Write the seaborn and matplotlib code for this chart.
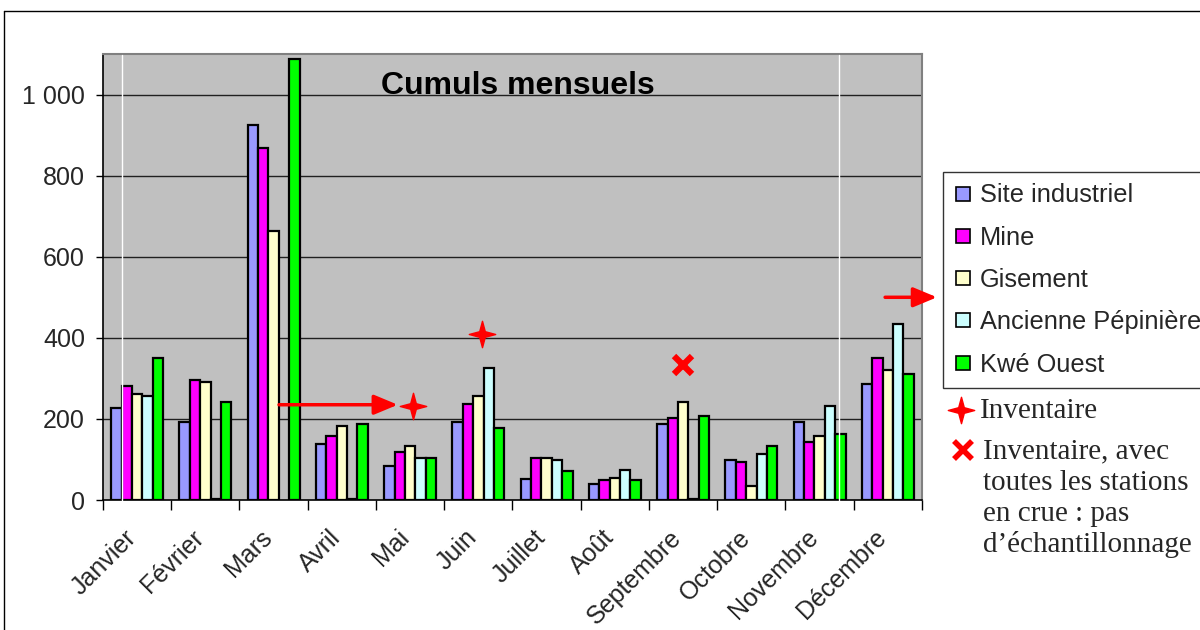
import numpy as np
import pandas as pd
import matplotlib
matplotlib.use("Agg")
import matplotlib.pyplot as plt
from matplotlib.lines import Line2D
from matplotlib.path import Path
from matplotlib.ticker import FixedLocator, FuncFormatter
import seaborn as sns

# Monthly cumulative values per station
months = ["Janvier", "Février", "Mars", "Avril", "Mai", "Juin", "Juillet",
          "Août", "Septembre", "Octobre", "Novembre", "Décembre"]
stations = ["Site industriel", "Mine", "Gisement", "Ancienne Pépinière", "Kwé Ouest"]
site_industriel = [226, 193, 925, 138, 85, 193, 53, 39, 188, 98, 193, 287]
mine = [281, 296, 867, 158, 119, 237, 103, 49, 203, 93, 142, 351]
gisement = [262, 292, 663, 183, 134, 257, 103, 54, 242, 34, 158, 320]
ancienne_pepiniere = [256, 3, np.nan, 3, 103, 326, 98, 73, 3, 114, 233, 435]
kwe_ouest = [351, 242, 1088, 188, 103, 178, 72, 49, 207, 133, 163, 311]
colors = ["#9999FF", "#FF00FF", "#FFFFCC", "#CCFFFF", "#00FF00"]

# Inventory events (month, level)
inventaire_mois = ["Mai", "Juin"]
inventaire_val = [233, 410]
crue_mois = ["Septembre"]
crue_val = [332]

series = [site_industriel, mine, gisement, ancienne_pepiniere, kwe_ouest]
rows = []
for st, vals in zip(stations, series):
    for m, v in zip(months, vals):
        rows.append({"Mois": m, "Station": st, "Cumul": v})
df = pd.DataFrame(rows).dropna()

sns.set_theme(style="white")
plt.rcParams["font.family"] = ["Liberation Sans", "DejaVu Sans"]

# four-pointed sparkle marker
ang = np.deg2rad(np.arange(90, 450, 45))
rad = np.array([1.0, 0.3] * 4)
star = Path(np.column_stack([rad * np.cos(ang), rad * np.sin(ang)]).tolist()
            + [[0.0, 1.0]], closed=True)

fig = plt.figure(figsize=(12, 6.3), dpi=100)
ax = fig.add_axes([0.0858, 0.2063, 0.6825, 0.708])
ax.set_facecolor("#C0C0C0")

sns.barplot(data=df, x="Mois", y="Cumul", hue="Station", order=months,
            hue_order=stations, palette=colors, saturation=1, width=0.76,
            errorbar=None, edgecolor="black", linewidth=1.6, legend=False,
            ax=ax, zorder=3)

ax.set_xlim(-0.5, 11.5)
ax.set_ylim(0, 1100)
ax.set_xlabel("")
ax.set_ylabel("")

# horizontal gridlines
ax.set_yticks([0, 200, 400, 600, 800, 1000])
ax.yaxis.set_major_formatter(FuncFormatter(lambda v, p: f"{int(v):,}".replace(",", " ")))
for yv in [200, 400, 600, 800, 1000]:
    ax.axhline(yv, color="#202020", lw=1.0, zorder=1)

ax.tick_params(axis="y", which="major", length=5, width=1, color="black",
               direction="out", labelsize=18, pad=8, left=True)

# x ticks: labels at centres, marks at boundaries
ax.set_xticks(range(len(months)))
ax.set_xticklabels(months, rotation=45, ha="right", va="baseline",
                   rotation_mode="anchor", fontsize=18)
ax.xaxis.set_minor_locator(FixedLocator(np.arange(-0.5, 12, 1)))
ax.tick_params(axis="x", which="major", length=0, pad=28)
ax.tick_params(axis="x", which="minor", length=7, width=1, color="black",
               direction="out", bottom=True)

for side in ["left", "bottom"]:
    ax.spines[side].set_color("black")
    ax.spines[side].set_linewidth(1.2)
for side in ["top", "right"]:
    ax.spines[side].set_color("#808080")
    ax.spines[side].set_linewidth(1.5)

ax.text(0.507, 0.910, "Cumuls mensuels", transform=ax.transAxes, ha="center",
        va="baseline", fontsize=23, fontweight="bold", color="black", zorder=5)

# inventory annotations
pos = {m: i for i, m in enumerate(months)}
for m, v in zip(inventaire_mois, inventaire_val):
    ax.plot(pos[m] + 0.05, v, marker=star, markersize=19, color="red",
            markeredgecolor="red", zorder=6, clip_on=False)
for m, v in zip(crue_mois, crue_val):
    ax.plot(pos[m], v, marker="x", markersize=13, markeredgewidth=4.5, color="red",
            zorder=6, clip_on=False)

ax.annotate("", xy=(3.82, 235), xytext=(2.08, 235),
            arrowprops=dict(arrowstyle="-|>,head_length=1.2,head_width=0.5",
                            color="red", lw=2.5, shrinkA=0, shrinkB=0), zorder=6)
ax.annotate("", xy=(11.72, 500), xytext=(10.96, 500), annotation_clip=False,
            arrowprops=dict(arrowstyle="-|>,head_length=1.2,head_width=0.5",
                            color="red", lw=2.5, shrinkA=0, shrinkB=0), zorder=6)

# legend
handles = [Line2D([], [], marker="s", linestyle="none", markersize=10,
                  markerfacecolor=c, markeredgecolor="black", markeredgewidth=1.2)
           for c in colors]
leg = fig.legend(handles, stations, loc="upper left", bbox_to_anchor=(0.786, 0.727),
                 frameon=True, fancybox=False, edgecolor="black", fontsize=18.3,
                 handlelength=0.62, handletextpad=0.36, labelspacing=0.72,
                 borderpad=0.45, borderaxespad=0)
leg.get_frame().set_linewidth(1.0)

serif = ["Liberation Serif", "DejaVu Serif"]
fig.lines.append(Line2D([961 / 1200], [1 - 410 / 630], marker=star, markersize=19,
                        color="red", transform=fig.transFigure))
fig.text(980 / 1200, 1 - 418 / 630, "Inventaire", family=serif, fontsize=21,
         va="baseline", ha="left")
fig.lines.append(Line2D([963 / 1200], [1 - 450 / 630], marker="x", markersize=13,
                        markeredgewidth=4, color="red", transform=fig.transFigure))
note_lines = ["Inventaire, avec", "toutes les stations", "en crue : pas",
              "d\u2019échantillonnage"]
for k, line in enumerate(note_lines):
    fig.text(983 / 1200, 1 - (458 + 31.5 * k) / 630, line, family=serif,
             fontsize=21, va="baseline", ha="left")

# page frame lines and light vertical guides
fig.lines.append(Line2D([4 / 1200, 1], [1 - 11 / 630, 1 - 11 / 630], color="black",
                        lw=1, transform=fig.transFigure))
fig.lines.append(Line2D([4 / 1200, 4 / 1200], [0, 1 - 11 / 630], color="black",
                        lw=1, transform=fig.transFigure))
for xp in [122, 839]:
    fig.lines.append(Line2D([xp / 1200, xp / 1200], [1 - 500 / 630, 1 - 55 / 630],
                            color="white", lw=1, transform=fig.transFigure, zorder=0.5))

fig.savefig("out.png", dpi=100)
